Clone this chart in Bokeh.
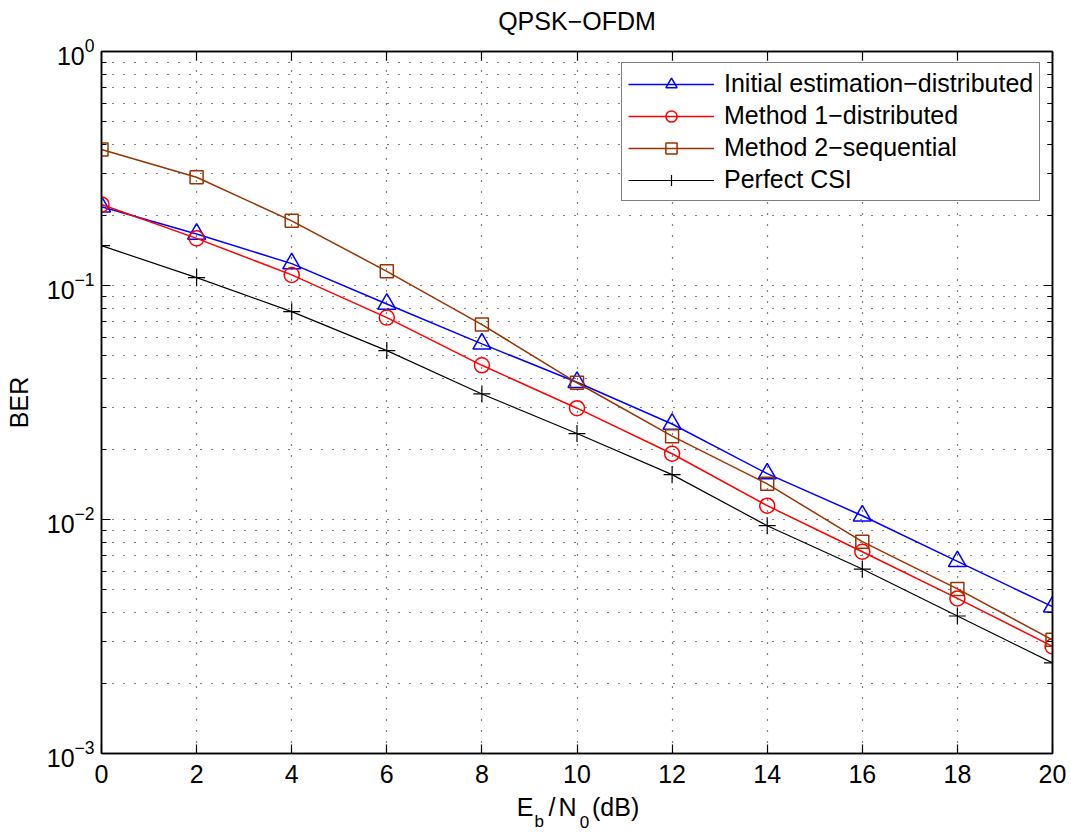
from bokeh.plotting import figure
from bokeh.layouts import column
from bokeh.models import (Range1d, LinearAxis, LogAxis, FixedTicker, LogTickFormatter,
                          Legend, LegendItem, CustomJSTickFormatter, ColumnDataSource)
from bokeh.core.properties import value
from bokeh.embed import file_html
from bokeh.resources import INLINE

# ---------------- data ----------------
snr_db = [0, 2, 4, 6, 8, 10, 12, 14, 16, 18, 20]
ber_initial = [0.217, 0.166, 0.124, 0.0834, 0.0563, 0.0386, 0.0256, 0.0157, 0.01038, 0.00662, 0.00424]
ber_method1 = [0.222, 0.159, 0.111, 0.0729, 0.0456, 0.0299, 0.0191, 0.01146, 0.00728, 0.0046, 0.00287]
ber_method2 = [0.381, 0.290, 0.189, 0.115, 0.0681, 0.0384, 0.0227, 0.0142, 0.00804, 0.00505, 0.00306]
ber_perfect = [0.148, 0.108, 0.0773, 0.0527, 0.0344, 0.0233, 0.01555, 0.00941, 0.00614, 0.00387, 0.00244]

series_labels = ["Initial estimation\u2212distributed", "Method 1\u2212distributed",
                 "Method 2\u2212sequential", "Perfect CSI"]
x_ticks = [0, 2, 4, 6, 8, 10, 12, 14, 16, 18, 20]
y_decades = [-3, -2, -1, 0]
title_text = "QPSK\u2212OFDM"
y_label = "BER"
# x label E_b/N_0 (dB): pieces, horizontal offset from label centre (px), anchor height (px), size
x_label_text = ["E", "b", "/", "N", "0", "(dB)"]
x_label_dx = [-60.2, -42.5, -28.5, -18.5, 2.8, 15.0]
x_label_base = [25.2, 10.8, 25.2, 25.2, 10.8, 25.2]
x_label_size = ["25px", "17px", "25px", "25px", "17px", "25px"]

FONT = "Liberation Sans"
BIG = "25px"

W = 1071
H_MAIN = 796
H_LAB = 36

p = figure(width=W, height=H_MAIN, x_range=Range1d(0, 20), y_range=Range1d(1e-3, 1),
           y_axis_type="log", output_backend="svg", toolbar_location=None,
           min_border_left=101, min_border_right=19, min_border_top=51, min_border_bottom=43)

p.background_fill_color = "white"
p.border_fill_color = "white"
p.outline_line_color = "black"
p.outline_line_width = 1.5

# title
p.title.text = title_text
p.title.align = "center"
p.title.text_font = FONT
p.title.text_font_size = BIG
p.title.text_font_style = "normal"
p.title.text_color = "black"
p.title.standoff = 6

y_major = [10.0 ** k for k in y_decades]
y_minor = [m * 10.0 ** k for k in y_decades[:-1] for m in range(2, 10)]

blank = CustomJSTickFormatter(code="return ''")

# bottom axis
xa = p.xaxis[0]
xa.ticker = FixedTicker(ticks=x_ticks)
xa.major_tick_in = 9
xa.major_tick_out = 0
xa.minor_tick_in = 0
xa.minor_tick_out = 0
xa.axis_line_width = 1.5
xa.major_tick_line_width = 1.2
xa.major_label_text_font = FONT
xa.major_label_text_font_size = BIG
xa.major_label_text_color = "black"
xa.major_label_standoff = 11

# left axis
ya = p.yaxis[0]
ya.ticker = FixedTicker(ticks=y_major, minor_ticks=y_minor)
ya.formatter = LogTickFormatter()
ya.major_tick_in = 9
ya.major_tick_out = 0
ya.minor_tick_in = 5
ya.minor_tick_out = 0
ya.axis_line_width = 1.5
ya.major_tick_line_width = 1.2
ya.minor_tick_line_width = 1.2
ya.major_label_text_font = FONT
ya.major_label_text_font_size = BIG
ya.major_label_text_color = "black"
ya.major_label_standoff = 7
ya.axis_label = y_label
ya.axis_label_text_font = FONT
ya.axis_label_text_font_size = BIG
ya.axis_label_text_font_style = "normal"
ya.axis_label_text_color = "black"
ya.axis_label_standoff = 11

# top and right axes (ticks only)
top = LinearAxis(ticker=FixedTicker(ticks=x_ticks), formatter=blank,
                 major_tick_in=9, major_tick_out=0, minor_tick_in=0, minor_tick_out=0,
                 axis_line_width=1.5, major_tick_line_width=1.2, major_label_standoff=0,
                 major_label_text_font_size="0px")
p.add_layout(top, "above")
# invisible spacer between the top axis and the title
spacer = LinearAxis(ticker=FixedTicker(ticks=x_ticks), formatter=blank,
                    major_tick_in=0, major_tick_out=14, minor_tick_in=0, minor_tick_out=0,
                    axis_line_color=None, major_tick_line_color=None,
                    minor_tick_line_color=None, major_label_standoff=0,
                    major_label_text_font_size="0px")
p.add_layout(spacer, "above")
right = LogAxis(ticker=FixedTicker(ticks=y_major, minor_ticks=y_minor), formatter=blank,
                major_tick_in=9, major_tick_out=0, minor_tick_in=5, minor_tick_out=0,
                axis_line_width=1.5, major_tick_line_width=1.2, minor_tick_line_width=1.2,
                major_label_standoff=0, major_label_text_font_size="0px")
p.add_layout(right, "right")

# grids (dotted)
p.xgrid.ticker = FixedTicker(ticks=x_ticks)
p.xgrid.grid_line_color = "black"
p.xgrid.grid_line_dash = "1 10"
p.xgrid.grid_line_width = 1.2
p.ygrid.ticker = FixedTicker(ticks=y_major, minor_ticks=y_minor)
p.ygrid.grid_line_color = "black"
p.ygrid.grid_line_dash = "1 10"
p.ygrid.grid_line_width = 1.2
p.ygrid.minor_grid_line_color = "black"
p.ygrid.minor_grid_line_dash = "1 10"
p.ygrid.minor_grid_line_width = 1.2

# series
specs = [
    (ber_initial, "#0000ff", "triangle", 18, 1.5),
    (ber_method1, "#ff0000", "circle", 15, 1.5),
    (ber_method2, "#993300", "square", 13, 1.5),
    (ber_perfect, "#000000", "cross", 17, 1.2),
]
items = []
for (vals, col, mk, sz, lw), lab in zip(specs, series_labels):
    rl = p.line(snr_db, vals, line_color=col, line_width=lw)
    rm = p.scatter(snr_db, vals, marker=mk, size=sz, line_color=col,
                   fill_color=None, line_width=lw)
    items.append(LegendItem(label=lab, renderers=[rl, rm]))

legend = Legend(items=items, location=(520, 552), label_text_font=FONT,
                label_text_font_size=BIG, label_text_color="black",
                label_height=28, glyph_height=28, glyph_width=86, label_standoff=10,
                spacing=3, padding=6, margin=0,
                border_line_color="black", border_line_width=1,
                background_fill_color="white", background_fill_alpha=1.0)
p.add_layout(legend)

# ---------- strip below the axes holding the x label E_b/N_0 (dB) ----------
p2 = figure(width=W, height=H_LAB, x_range=p.x_range, y_range=Range1d(0, H_LAB),
            title=None, output_backend="svg", toolbar_location=None,
            x_axis_location=None, y_axis_location=None,
            min_border_left=101, min_border_right=19, min_border_top=0, min_border_bottom=0)
p2.grid.visible = False
p2.outline_line_color = None
p2.background_fill_color = "white"
p2.border_fill_color = "white"
src = ColumnDataSource(dict(x=[10] * len(x_label_text), y=x_label_base, text=x_label_text,
                            dx=x_label_dx, size=x_label_size))
p2.text(x="x", y="y", text="text", x_offset="dx", text_font_size="size",
        text_font=value(FONT), text_align="left", text_baseline="alphabetic",
        text_color="black", source=src)

layout = column(p, p2, spacing=0)
open("out.html", "w").write(file_html(layout, INLINE))
